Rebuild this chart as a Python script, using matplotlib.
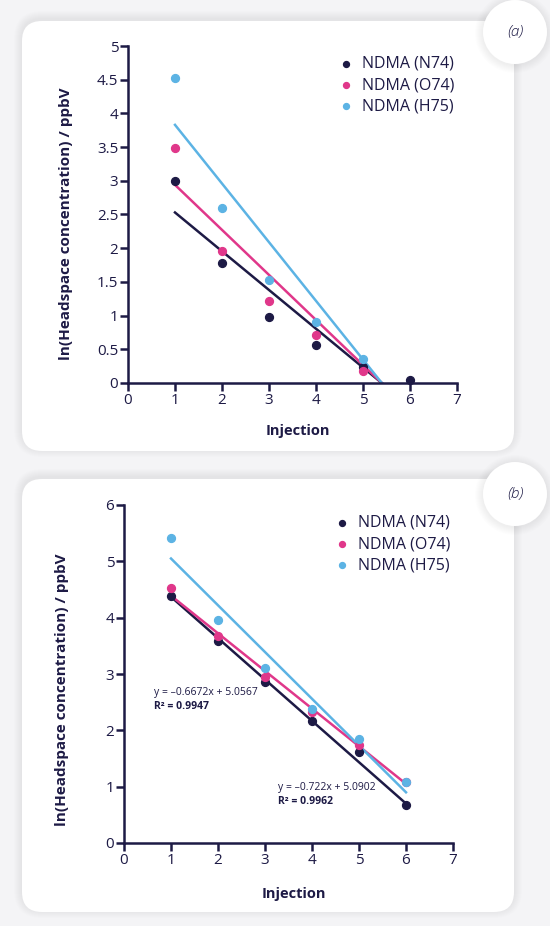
import numpy as np
import matplotlib.pyplot as plt
from matplotlib.patches import FancyBboxPatch, Circle
from matplotlib.transforms import IdentityTransform

plt.rcParams['font.family'] = ['Open Sans', 'DejaVu Sans']

navy = '#1d1a45'
pink = '#e0378a'
blue = '#5cb3e4'

series = ['NDMA (N74)', 'NDMA (O74)', 'NDMA (H75)']

# panel (a)
inj_a = [1, 2, 3, 4, 5, 6]
a_n74 = [2.99, 1.78, 0.98, 0.56, 0.24, 0.05]
a_o74 = [3.49, 1.96, 1.21, 0.71, 0.18]
a_h75 = [4.53, 2.59, 1.53, 0.91, 0.35]
fit_x_a = [1, 5.4]
fit_a_n74 = [2.53, 0.0]
fit_a_o74 = [2.94, 0.0]
fit_a_h75 = [3.83, 0.0]

# panel (b)
inj_b = [1, 2, 3, 4, 5, 6]
b_n74 = [4.39, 3.59, 2.85, 2.17, 1.61, 0.67]
b_o74 = [4.52, 3.68, 2.94, 2.32, 1.74, 1.09]
b_h75 = [5.42, 3.95, 3.11, 2.38, 1.84, 1.08]
fit_x_b = [1, 6]
fit_b_n74 = [4.37, 0.70]
fit_b_o74 = [4.39, 1.05]
fit_b_h75 = [5.05, 0.90]

eq_o74 = 'y = \u20130.6672x + 5.0567'
r2_o74 = 'R\u00b2 = 0.9947'
eq_n74 = 'y = \u20130.722x + 5.0902'
r2_n74 = 'R\u00b2 = 0.9962'

fig = plt.figure(figsize=(5.5, 9.26), dpi=100, facecolor='#f4f4f6')
H = 926
ident = IdentityTransform()


def card(x0, y0, x1, y1):
    # soft shadow, then the white card (pixel coords, y from top)
    for k in range(8, 0, -1):
        sh = FancyBboxPatch((x0 - k, H - y1 - k + 2), x1 - x0 + 2 * k, y1 - y0 + 2 * k,
                            boxstyle='round,pad=0,rounding_size=%d' % (20 + k),
                            transform=ident, fc='#000000', ec='none', alpha=0.006,
                            zorder=-10)
        fig.patches.append(sh)
    c = FancyBboxPatch((x0, H - y1), x1 - x0, y1 - y0,
                       boxstyle='round,pad=0,rounding_size=20',
                       transform=ident, fc='white', ec='none', zorder=-9)
    fig.patches.append(c)


def badge(cx, cy, txt):
    for k in range(8, 0, -1):
        fig.patches.append(Circle((cx, H - cy - 1), 32 + k, transform=ident,
                                  fc='#000000', ec='none', alpha=0.007, zorder=-8))
    fig.patches.append(Circle((cx, H - cy), 32, transform=ident, fc='white',
                              ec='none', zorder=-7))
    fig.text(cx / 550, 1 - cy / H, txt, ha='center', va='center', fontsize=11,
             style='italic', fontweight='light', color=navy)


card(22, 21, 514, 451)
card(22, 479, 514, 912)
badge(515, 32, '(a)')
badge(515, 494, '(b)')


def style_axes(ax, ymax, ystep, ylab_y, xlab_y):
    for s in ['top', 'right']:
        ax.spines[s].set_visible(False)
    for s in ['left', 'bottom']:
        ax.spines[s].set_color(navy)
        ax.spines[s].set_linewidth(1.8)
    ax.set_xlim(0, 7)
    ax.set_ylim(0, ymax)
    ax.set_xticks(range(0, 8))
    yt = np.arange(0, ymax + 0.001, ystep)
    ax.set_yticks(yt)
    ax.set_yticklabels(['%g' % v for v in yt])
    ax.tick_params(direction='out', length=6, width=1.8, color=navy,
                   labelcolor=navy, labelsize=11, pad=1)
    ax.set_facecolor('none')
    ax.set_xlabel('Injection', fontsize=10.5, fontweight='bold', color=navy)
    ax.set_ylabel('ln(Headspace concentration) / ppbV', fontsize=11,
                  fontweight='bold', color=navy)
    ax.yaxis.set_label_coords(-0.168, ylab_y)
    ax.xaxis.set_label_coords(0.515, xlab_y)


# (a)
ax1 = fig.add_axes([128 / 550, 1 - 383 / H, 329 / 550, 337 / H])
ax1.plot(fit_x_a, fit_a_n74, color=navy, lw=1.8, zorder=2)
ax1.plot(fit_x_a, fit_a_o74, color=pink, lw=1.8, zorder=2)
ax1.plot(fit_x_a, fit_a_h75, color=blue, lw=1.8, zorder=2)
ax1.scatter(inj_a, a_n74, s=32, color=navy, zorder=3, label=series[0], clip_on=False)
ax1.scatter(inj_a[:5], a_o74, s=32, color=pink, zorder=3, label=series[1])
ax1.scatter(inj_a[:5], a_h75, s=32, color=blue, zorder=3, label=series[2])
style_axes(ax1, 5, 0.5, (383 - 224) / 337, -(424 - 383) / 337)
ax1.legend(loc='upper left', bbox_to_anchor=(0.6, 0.985), frameon=False, fontsize=11.5,
           handletextpad=0.0, labelspacing=0.33, labelcolor=navy, markerscale=0.75,
           borderaxespad=0.0, borderpad=0.3)

# (b)
ax2 = fig.add_axes([124 / 550, 1 - 843 / H, 329 / 550, 338 / H])
ax2.plot(fit_x_b, fit_b_n74, color=navy, lw=1.8, zorder=2)
ax2.plot(fit_x_b, fit_b_o74, color=pink, lw=1.8, zorder=2)
ax2.plot(fit_x_b, fit_b_h75, color=blue, lw=1.8, zorder=2)
ax2.scatter(inj_b, b_n74, s=32, color=navy, zorder=3, label=series[0])
ax2.scatter(inj_b, b_o74, s=32, color=pink, zorder=3, label=series[1])
ax2.scatter(inj_b, b_h75, s=32, color=blue, zorder=3, label=series[2])
style_axes(ax2, 6, 1, (843 - 690) / 338, -(887 - 843) / 338)
ax2.legend(loc='upper left', bbox_to_anchor=(0.6, 0.985), frameon=False, fontsize=11.5,
           handletextpad=0.0, labelspacing=0.33, labelcolor=navy, markerscale=0.75,
           borderaxespad=0.0, borderpad=0.3)
ax2.text(0.64, 2.68, eq_o74, fontsize=7.5, color=navy, va='center')
ax2.text(0.64, 2.42, r2_o74, fontsize=7.5, color=navy, va='center', fontweight='bold')
ax2.text(3.28, 0.98, eq_n74, fontsize=7.5, color=navy, va='center')
ax2.text(3.28, 0.73, r2_n74, fontsize=7.5, color=navy, va='center', fontweight='bold')

fig.savefig('out.png', dpi=100, facecolor=fig.get_facecolor())
